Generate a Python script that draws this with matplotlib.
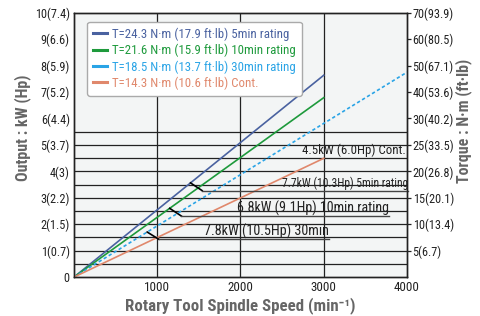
import numpy as np
import matplotlib.pyplot as plt
from matplotlib import font_manager

# data
torques = [24.3, 21.6, 18.5, 14.3]        # N·m
max_speed = [3000, 3000, 4000, 3000]       # min^-1
labels = ["T=24.3 N·m (17.9 ft·lb) 5min rating",
          "T=21.6 N·m (15.9 ft·lb) 10min rating",
          "T=18.5 N·m (13.7 ft·lb) 30min rating",
          "T=14.3 N·m (10.6 ft·lb) Cont."]
colors = ["#4a62a0", "#1e9a3c", "#2aa4e6", "#e0886c"]
styles = ["-", "-", (0, (2, 1.5)), "-"]

kw_ticks = [0, 1, 2, 3, 4, 5, 6, 7, 8, 9, 10]
kw_ticklabels = ["0", "1(0.7)", "2(1.5)", "3(2.2)", "4(3)", "5(3.7)",
                 "6(4.4)", "7(5.2)", "8(5.9)", "9(6.6)", "10(7.4)"]
tq_ticks = [1, 2, 3, 4, 5, 6, 7, 8, 9, 10]
tq_ticklabels = ["5(6.7)", "10(13.4)", "15(20.1)", "20(26.8)", "25(33.5)",
                 "30(40.2)", "40(53.6)", "50(67.1)", "60(80.5)", "70(93.9)"]
speed_ticks = [1000, 2000, 3000, 4000]
grid_kw = [0.5, 1, 1.5, 2, 2.5, 3, 3.5, 4, 4.5, 5, 5.5]

# callouts: (line index, speed of pointer, elbow speed, elbow kW, end speed, text, size)
callouts = [
    (0, 1400, 1540, 3.27, 4010, "7.7kW (10.3Hp) 5min rating", 8.4),
    (1, 1150, 1290, 2.31, 3780, "6.8kW (9.1Hp) 10min rating", 10.1),
    (2, 880, 1020, 1.43, 3060, "7.8kW (10.5Hp) 30min", 10.2),
]

names = {f.name for f in font_manager.fontManager.ttflist}
fam = 'Roboto'
for cand in ['Roboto Condensed', 'Open Sans Condensed', 'Liberation Sans Narrow']:
    if cand in names:
        fam = cand
        break
plt.rcParams['font.family'] = [fam, 'DejaVu Sans']


def kw(t, n):
    return t * 2 * np.pi * n / 60 / 1000


fig = plt.figure(figsize=(4.8, 3.16), dpi=100)
ax = fig.add_axes([0.154, 0.123, 0.694, 0.837])
ax.set_facecolor("#f3f5f5")

for y in grid_kw:
    ax.axhline(y, color="#222222", lw=0.9, zorder=1)
for x in [1000, 2000, 3000]:
    ax.axvline(x, color="#222222", lw=0.9, zorder=1)

for t, n, c, ls, lab in zip(torques, max_speed, colors, styles, labels):
    ax.plot([0, n], [0, kw(t, n)], color=c, ls=ls, lw=1.2, label=lab, zorder=3)

for i, s, ex, ey, end, txt, fs in callouts:
    ax.plot([s, ex], [kw(torques[i], s), ey], color="black", lw=1.2, zorder=4)
    ax.plot([ex, end], [ey, ey], color="#444444", lw=1.0, zorder=4,
            clip_on=False)
    ax.text(end, ey + 0.02, txt, ha="right", va="bottom", fontsize=fs,
            color="#222222", zorder=5, clip_on=False)

ax.text(3990, 4.56, "4.5kW (6.0Hp) Cont.", ha="right", va="bottom",
        fontsize=9.3, color="#222222", zorder=5)

ax.set_xlim(0, 4000)
ax.set_ylim(0, 10)
ax.set_xticks(speed_ticks)
ax.set_xticklabels([str(v) for v in speed_ticks], fontsize=9.4, color="#222222")
ax.set_yticks(kw_ticks)
ax.set_yticklabels(kw_ticklabels, fontsize=8.8, color="#222222")
ax.tick_params(axis="y", length=0, pad=3)
ax.tick_params(axis="x", length=0, pad=2.5)

ax2 = ax.twinx()
ax2.set_ylim(0, 10)
ax2.set_yticks(tq_ticks)
ax2.set_yticklabels(tq_ticklabels, fontsize=8.8, color="#222222")
ax2.tick_params(length=3, width=0.9, pad=1, color="#222222")

for a in (ax, ax2):
    for sp in a.spines.values():
        sp.set_color("#222222")
        sp.set_linewidth(1.0)

# axis titles placed by hand like the original artwork
fig.text(0.5, 2 / 316, "Rotary Tool Spindle Speed (min⁻¹)", fontsize=12.2,
         fontweight="bold", color="#666666", ha="center", va="bottom")
fig.text(23 / 480, 1 - 128 / 316, "Output : kW (Hp)", fontsize=11.5,
         fontweight="bold", color="#666666", ha="center", va="center",
         rotation=90)
fig.text(464 / 480, 1 - 121 / 316, "Torque : N·m (ft·lb)", fontsize=11.5,
         fontweight="bold", color="#666666", ha="center", va="center",
         rotation=90)

leg = ax.legend(loc="upper left", bbox_to_anchor=(0.02, 0.99), fontsize=9.3,
                handlelength=1.1, handletextpad=0.4, labelspacing=0.22,
                borderpad=0.45, frameon=True, fancybox=True)
leg.get_frame().set_edgecolor("#aaaaaa")
leg.get_frame().set_facecolor("white")
leg.get_frame().set_alpha(1)
for h in leg.get_lines():
    h.set_linewidth(2.2)
    h.set_linestyle("-")
for t, c in zip(leg.get_texts(), colors):
    t.set_color(c)

fig.savefig("out.png", dpi=100)
